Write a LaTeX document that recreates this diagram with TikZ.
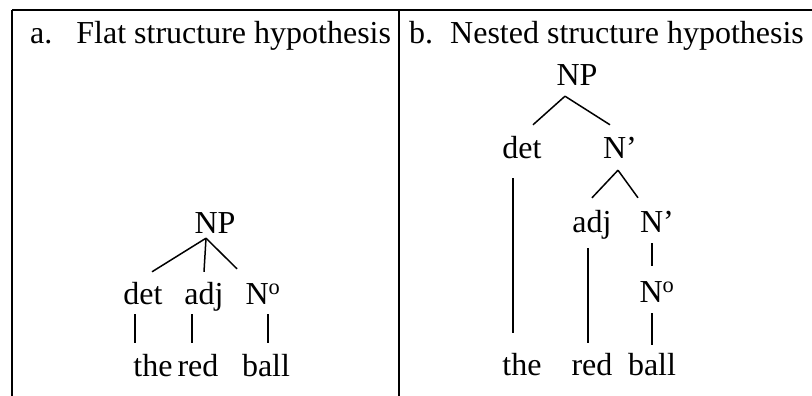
\documentclass[tikz,border=0pt]{standalone}
\usepackage{fontspec}
\setmainfont{Liberation Serif}

\begin{document}
\begin{tikzpicture}[x=1pt, y=-1pt,
    lbl/.style={anchor=base, inner sep=0pt, text height=21pt, text depth=7pt,
        font=\fontsize{32}{38}\selectfont},
    head/.style={anchor=base west, inner sep=0pt, font=\fontsize{32}{38}\selectfont},
    edge/.style={line width=1.5pt},
    rule/.style={line width=1.8pt}]

\useasboundingbox (0,0) rectangle (812,396);

% Table rules
\def\tabTop{10}
\draw[rule] (12,\tabTop) -- (812,\tabTop);
\draw[rule] (12,\tabTop) -- (12,396);
\draw[rule] (399,\tabTop) -- (399,396);

% Headings
\node[head] (headA) at (30,44) {a.\hspace{24pt}Flat structure hypothesis};
\node[head] (headB) at (409,44) {b.\hspace{17pt}Nested structure hypothesis};

% a. Flat tree
\node[lbl] (npA) at (215,233) {NP};
\node[lbl] (detA) at (143,304) {det};
\node[lbl] (adjA) at (204,304) {adj};
\node[lbl] (nA) at (263,304) {N\textsuperscript{o}};
\node[lbl] (theA) at (153,376) {the};
\node[lbl] (redA) at (198,376) {red};
\node[lbl] (ballA) at (266,376) {ball};

\draw[edge] ([xshift=-9pt,yshift=2pt]npA.south) -- ([xshift=9pt,yshift=11pt]detA.north);
\draw[edge] ([xshift=-9pt,yshift=2pt]npA.south) -- ([yshift=11pt]adjA.north);
\draw[edge] ([xshift=-9pt,yshift=2pt]npA.south) -- ([xshift=-26pt,yshift=14pt]nA.north);

\draw[edge] ([xshift=-8pt,yshift=-3pt]detA.south) -- ([xshift=-18pt,yshift=12pt]theA.north);
\draw[edge] ([xshift=-12pt,yshift=-3pt]adjA.south) -- ([xshift=-6pt,yshift=12pt]redA.north);
\draw[edge] ([xshift=5pt,yshift=-3pt]nA.south) -- ([xshift=2pt,yshift=12pt]ballA.north);

% b. Nested tree
\node[lbl] (npB) at (577,85) {NP};
\node[lbl] (detB) at (522,158) {det};
\node[lbl] (nbarB) at (620,158) {N’};
\node[lbl] (adjB) at (592,232) {adj};
\node[lbl] (nbarC) at (657,232) {N’};
\node[lbl] (nB) at (657,302) {N\textsuperscript{o}};
\node[lbl] (theB) at (522,375) {the};
\node[lbl] (redB) at (592,375) {red};
\node[lbl] (ballB) at (652,375) {ball};

\draw[edge] ([xshift=-12pt,yshift=-4pt]npB.south) -- ([xshift=11pt,yshift=12pt]detB.north);
\draw[edge] ([xshift=-12pt,yshift=-4pt]npB.south) -- ([xshift=-10pt,yshift=12pt]nbarB.north);
\draw[edge] ([xshift=-2pt,yshift=-5pt]nbarB.south) -- ([yshift=13pt]adjB.north);
\draw[edge] ([xshift=-2pt,yshift=-5pt]nbarB.south) -- ([xshift=-19pt,yshift=13pt]nbarC.north);

\draw[edge] ([xshift=-9pt,yshift=-13pt]detB.south) -- ([xshift=-9pt,yshift=21pt]theB.north);
\draw[edge] ([xshift=-4pt,yshift=-9pt]adjB.south) -- ([xshift=-4pt,yshift=11pt]redB.north);
\draw[edge] ([xshift=-5pt,yshift=-4pt]nbarC.south) -- ([xshift=-5pt,yshift=15pt]nB.north);
\draw[edge] ([xshift=-5pt,yshift=-4pt]nB.south) -- ([yshift=9pt]ballB.north);

\end{tikzpicture}
\end{document}
